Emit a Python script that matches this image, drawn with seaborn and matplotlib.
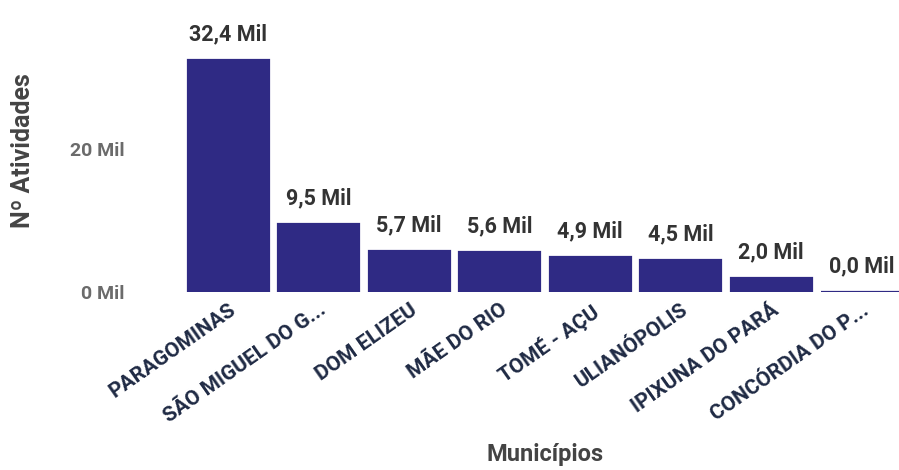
import matplotlib
matplotlib.use("Agg")
import matplotlib.pyplot as plt
import seaborn as sns
import pandas as pd

municipios = ["PARAGOMINAS", "SÃO MIGUEL DO G...", "DOM ELIZEU", "MÃE DO RIO",
              "TOMÉ - AÇU", "ULIANÓPOLIS", "IPIXUNA DO PARÁ", "CONCÓRDIA DO P..."]
atividades = [32400, 9500, 5700, 5600, 4900, 4500, 2000, 40]
y_ticks = [0, 20000]
y_tick_labels = ["0 Mil", "20 Mil"]

df = pd.DataFrame({"municipio": municipios, "atividades": atividades})

sns.set_theme(style="white")
plt.rcParams["font.family"] = ["Roboto", "DejaVu Sans"]

fig = plt.figure(figsize=(8.99, 4.70), dpi=100)
W, H = 899, 470
ax = fig.add_axes([183 / W, 1 - 292 / H, (907 - 183) / W, (292 - 40) / H])

sns.barplot(data=df, x="municipio", y="atividades", color="#2f2a84",
            width=0.89, saturation=1, edgecolor="#2f2a84", linewidth=1.6, ax=ax)

ax.set_xlim(-0.5, 7.5)
ax.set_ylim(0, 35200)
ax.set_yticks(y_ticks)
ax.set_yticklabels(y_tick_labels, fontsize=14, color="#6b6b6b", fontweight="bold")
ax.tick_params(axis="y", length=0, pad=42)

ax.set_xticks(range(len(municipios)))
ax.set_xticklabels(municipios, rotation=35, ha="right", rotation_mode="anchor",
                   fontsize=15, color="#1f2a44", fontweight="bold")
ax.tick_params(axis="x", length=0, pad=6)

for i, v in enumerate(atividades):
    txt = f"{v / 1000:.1f}".replace(".", ",") + " Mil"
    ax.text(i, v + 3600, txt, ha="center", va="center", fontsize=15.5,
            fontweight="bold", color="#333333")

ax.set_ylabel("Nº Atividades", fontsize=18, color="#444444", fontweight="bold")
ax.yaxis.set_label_coords(-(183 - 35) / (907 - 183), (292 - 151) / (292 - 40))
ax.set_xlabel("Municípios", fontsize=17, color="#444444", fontweight="bold",
              va="center")
ax.xaxis.set_label_coords((545 - 183) / (907 - 183), -(455 - 292) / (292 - 40))

sns.despine(ax=ax, left=True, bottom=True)
ax.grid(False)

fig.savefig("out.png", dpi=100, facecolor="white")
